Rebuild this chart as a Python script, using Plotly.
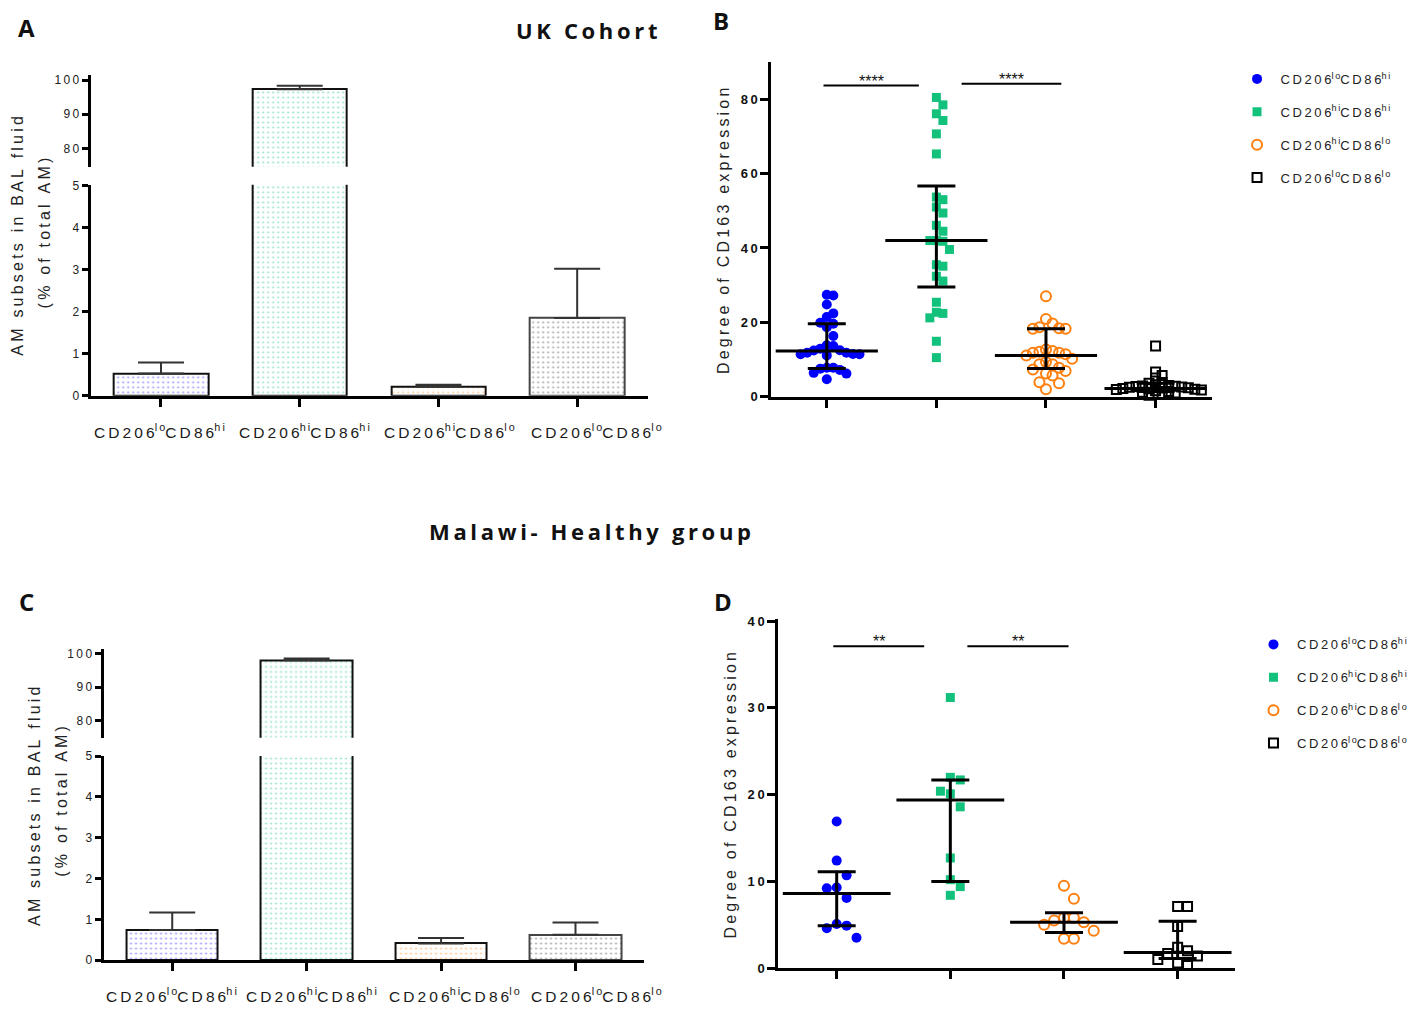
import plotly.graph_objects as go

W, H = 1412, 1009
TS = "\u2009"


def sp(s):
    return TS.join(s)


def lab(a, b):
    return sp("CD206") + "<sup>" + sp(a) + "</sup>" + sp("CD86") + "<sup>" + sp(b) + "</sup>"


# ---------------- DATA ----------------
subset_sup = [("lo", "hi"), ("hi", "hi"), ("hi", "lo"), ("lo", "lo")]
subset_labels = [lab(a, b) for a, b in subset_sup]

# Panel A / C : % of total AM (mean, SEM)
uk_pct_mean = [0.53, 97.3, 0.22, 1.85]
uk_pct_sem = [0.26, 1.0, 0.04, 1.17]
mw_pct_mean = [0.74, 98.0, 0.41, 0.62]
mw_pct_sem = [0.43, 0.5, 0.13, 0.30]

# Panel B : UK cohort, degree of CD163 expression
uk_lohi = [27.2, 27.4, 24.8, 22.4, 21.4, 19.6, 18.7, 19.9, 16.3, 13.8, 13.6, 12.9, 12.4, 11.8,
           11.4, 11.1, 11.5, 11.4, 11.8, 12.5, 7.8, 7.5, 6.4, 6.2, 7.2, 7.8, 4.7]
uk_hihi = [80.5, 78.5, 76.1, 74.3, 70.7, 65.3, 53.0, 53.7, 51.0, 49.4, 46.1, 44.5, 42.0, 41.8,
           42.0, 39.6, 35.5, 35.1, 31.1, 32.4, 25.4, 22.7, 22.4, 21.2, 14.9, 10.5]
uk_hilo = [27.0, 20.9, 19.7, 18.7, 18.3, 18.3, 18.4, 12.7, 11.8, 11.4, 12.3, 11.1, 11.8, 12.1,
           10.2, 8.7, 7.8, 8.7, 9.3, 6.9, 6.2, 7.3, 5.7, 3.9, 3.6, 2.0]
uk_lolo = [13.6, 6.6, 5.7, 5.0, 3.8, 3.6, 3.2, 3.0, 2.9, 2.8, 2.7, 2.6, 2.5, 2.4, 2.3, 2.2,
           2.1, 2.0, 1.9, 1.8, 1.6, 1.4, 1.2, 1.0, 0.7, 0.4]
uk_median = [12.3, 42.0, 11.1, 2.2]
uk_q1 = [7.6, 29.5, 7.6, 1.4]
uk_q3 = [19.6, 56.7, 18.3, 3.6]

# Panel D : Malawi healthy group
mw_lohi = [16.9, 12.4, 10.7, 9.2, 9.3, 8.1, 4.9, 4.6, 5.1, 3.5]
mw_hihi = [31.2, 22.0, 21.7, 20.1, 20.4, 18.6, 12.7, 10.2, 9.4, 8.4]
mw_hilo = [9.5, 8.0, 5.8, 5.8, 5.5, 5.3, 5.0, 4.3, 3.4, 3.4]
mw_lolo = [7.1, 7.1, 4.8, 2.4, 1.7, 2.0, 1.4, 1.0, 0.3, 0.6]
mw_median = [8.6, 19.4, 5.3, 1.8]
mw_q1 = [4.9, 10.0, 4.1, 1.1]
mw_q3 = [11.1, 21.7, 6.4, 5.4]

uk_sig = ["****", "****"]
mw_sig = ["**", "**"]

# ---------------- STYLE ----------------
pat_colors = ["#2b2bff", "#19c48e", "#ff8a1a", "#444444"]
bar_line = ["#111111", "#111111", "#111111", "#444444"]
FONT = "Liberation Sans, Arial, sans-serif"
TFONT = "Open Sans, Liberation Sans, sans-serif"

grp_style = [
    dict(symbol="circle", size=10, color="#0000ff", line=dict(width=0)),
    dict(symbol="square", size=9, color="#12c17c", line=dict(width=0)),
    dict(symbol="circle-open", size=10, color="#ff7f0e", line=dict(width=2, color="#ff7f0e")),
    dict(symbol="square-open", size=9, color="#000000", line=dict(width=2, color="#000000")),
]


def swarm(vals, ppu_y, ppu_x, step, dmin):
    """deterministic column-based scatter arrangement (offsets in category units)"""
    n = len(vals)
    order = sorted(range(n), key=lambda i: -vals[i])
    cols = {}
    offs = [0.0] * n
    for i in order:
        y = vals[i] * ppu_y
        k = 0
        while True:
            cands = [0] if k == 0 else [k, -k]
            done = False
            for c in cands:
                if all(abs(y - py) >= dmin for py in cols.get(c, [])):
                    cols.setdefault(c, []).append(y)
                    offs[i] = c * step / ppu_x
                    done = True
                    break
            if done:
                break
            k += 1
    return offs


# the rendered page places y-pixels at ~7 + 0.986*y ; compensate
def Y(py):
    return (py - 7) / 0.986


XS = 3.5  # small horizontal compensation for axis placement


def xdom(a, b):
    return [(a + XS) / W, (b + XS) / W]


def ydom(top, bottom):
    return [1 - Y(bottom) / H, 1 - Y(top) / H]


fig = go.Figure()


def add_bars(xa, ya, mean, sem):
    fig.add_trace(go.Bar(
        x=[0, 1, 2, 3], y=mean, width=0.68, xaxis=xa, yaxis=ya, showlegend=False,
        marker=dict(color="white", line=dict(color=bar_line, width=2),
                    pattern=dict(shape=".", fgcolor=pat_colors, bgcolor="white",
                                 size=5, solidity=0.13)),
        error_y=dict(type="data", symmetric=False, array=sem, arrayminus=[0] * 4,
                     color="#333333", thickness=2, width=23),
        hoverinfo="skip"))


add_bars("x", "y", uk_pct_mean, uk_pct_sem)
add_bars("x2", "y2", uk_pct_mean, uk_pct_sem)
add_bars("x3", "y3", mw_pct_mean, mw_pct_sem)
add_bars("x4", "y4", mw_pct_mean, mw_pct_sem)


def add_scatter(xa, ya, groups, med, q1, q3, ppu_y, ppu_x, legend, dmins, step, medw, capw):
    for i, vals in enumerate(groups):
        offs = swarm(vals, ppu_y, ppu_x, step, dmins[i])
        st = grp_style[i]
        fig.add_trace(go.Scatter(
            x=[i + o for o in offs], y=vals, mode="markers", xaxis=xa, yaxis=ya,
            name=lab(*subset_sup[i]), legend=legend, legendgroup=legend + str(i),
            marker=dict(symbol=st["symbol"], size=st["size"], color=st["color"], line=st["line"]),
            cliponaxis=False, hoverinfo="skip"))
    for i in range(4):
        fig.add_trace(go.Scatter(
            x=[i], y=[med[i]], mode="markers", xaxis=xa, yaxis=ya, showlegend=False,
            marker=dict(symbol="line-ew", size=medw, color="black", line=dict(width=3, color="black")),
            error_y=dict(type="data", symmetric=False, array=[q3[i] - med[i]],
                         arrayminus=[med[i] - q1[i]], color="black", thickness=3, width=capw),
            cliponaxis=False, hoverinfo="skip"))


# Panel B geometry (pixels)
B_X0, B_X1, B_Y0, B_Y1 = 775, 1220, 62, 397
B_RANGE_X = [-0.506, 3.517]
B_RANGE_Y = [0, 90.05]
# Panel D geometry (pixels)
D_X0, D_X1, D_Y0, D_Y1 = 782, 1243, 620, 969
D_RANGE_X = [-0.514, 3.505]
D_RANGE_Y = [0, 40.2]

add_scatter("x5", "y5", [uk_lohi, uk_hihi, uk_hilo, uk_lolo], uk_median, uk_q1, uk_q3,
            (B_Y1 - B_Y0) / 90.05 * 0.986, (B_X1 - B_X0) / 4.023, "legend",
            [9.5, 9.5, 10.5, 5.5], 6.6, 73, 19)
add_scatter("x6", "y6", [mw_lohi, mw_hihi, mw_hilo, mw_lolo], mw_median, mw_q1, mw_q3,
            (D_Y1 - D_Y0) / 40.2 * 0.986, (D_X1 - D_X0) / 4.019, "legend2",
            [15, 15, 14, 13], 10.0, 77, 19)

# ---------------- AXES ----------------
ax_common = dict(showline=True, linecolor="black", linewidth=3, ticks="outside",
                 tickcolor="black", tickwidth=2.5, showgrid=False, zeroline=False)
ytick_font = dict(family=FONT, size=12, color="#222222")

lay = dict(
    width=W, height=H, margin=dict(l=0, r=0, t=0, b=0),
    plot_bgcolor="white", paper_bgcolor="white", bargap=0,
    # Panel A
    xaxis=dict(domain=xdom(88, 651), range=[-0.507, 3.514], anchor="y", tickvals=[0, 1, 2, 3],
               showticklabels=False, ticklen=8, **ax_common),
    yaxis=dict(domain=ydom(185, 396), range=[0, 5.02], anchor="x", tickvals=[0, 1, 2, 3, 4, 5],
               ticklen=6, tickfont=ytick_font, **ax_common),
    xaxis2=dict(domain=xdom(88, 651), range=[-0.507, 3.514], anchor="y2", visible=False),
    yaxis2=dict(domain=ydom(75, 167), range=[74.6, 101.5], anchor="x2", tickvals=[80, 90, 100],
                ticktext=[sp("80"), sp("90"), sp("100")], ticklen=6, tickfont=ytick_font, **ax_common),
    # Panel C
    xaxis3=dict(domain=xdom(101, 646), range=[-0.511, 3.506], anchor="y3", tickvals=[0, 1, 2, 3],
                showticklabels=False, ticklen=8, **ax_common),
    yaxis3=dict(domain=ydom(756.7, 961), range=[0, 5.0], anchor="x3", tickvals=[0, 1, 2, 3, 4, 5],
                ticklen=6, tickfont=ytick_font, **ax_common),
    xaxis4=dict(domain=xdom(101, 646), range=[-0.511, 3.506], anchor="y4", visible=False),
    yaxis4=dict(domain=ydom(650, 738.3), range=[75.05, 101.2], anchor="x4", tickvals=[80, 90, 100],
                ticktext=[sp("80"), sp("90"), sp("100")], ticklen=6, tickfont=ytick_font, **ax_common),
    # Panel B
    xaxis5=dict(domain=xdom(B_X0, B_X1), range=B_RANGE_X, anchor="y5", tickvals=[0, 1, 2, 3],
                showticklabels=False, ticklen=8, **ax_common),
    yaxis5=dict(domain=ydom(B_Y0, B_Y1), range=B_RANGE_Y, anchor="x5", tickvals=[0, 20, 40, 60, 80],
                ticktext=["0", sp("20"), sp("40"), sp("60"), sp("80")], ticklen=8,
                tickfont=dict(family=FONT, size=13, color="#111", weight="bold"), **ax_common),
    # Panel D
    xaxis6=dict(domain=xdom(D_X0, D_X1), range=D_RANGE_X, anchor="y6", tickvals=[0, 1, 2, 3],
                showticklabels=False, ticklen=8, **ax_common),
    yaxis6=dict(domain=ydom(D_Y0, D_Y1), range=D_RANGE_Y, anchor="x6", tickvals=[0, 10, 20, 30, 40],
                ticktext=["0", sp("10"), sp("20"), sp("30"), sp("40")], ticklen=8,
                tickfont=dict(family=FONT, size=13, color="#111", weight="bold"), **ax_common),
    legend=dict(x=1245 / W, y=1 - Y(64) / H, xanchor="left", yanchor="top", tracegroupgap=13,
                font=dict(family=FONT, size=13, color="#222"), bgcolor="rgba(0,0,0,0)",
                traceorder="grouped", itemwidth=37),
    legend2=dict(x=1262 / W, y=1 - Y(630) / H, xanchor="left", yanchor="top", tracegroupgap=13,
                 font=dict(family=FONT, size=13, color="#222"), bgcolor="rgba(0,0,0,0)",
                 traceorder="grouped", itemwidth=37),
    showlegend=True,
)
fig.update_layout(**lay)

# ---------------- ANNOTATIONS ----------------
ann = []


def text(x, y, t, size, family=FONT, bold=False, angle=0, color="#111"):
    ann.append(dict(x=x / W, y=1 - Y(y) / H, xref="paper", yref="paper", text=t, showarrow=False,
                    textangle=angle, xanchor="center", yanchor="middle",
                    font=dict(family=family, size=size, color=color,
                              weight="bold" if bold else "normal")))


text(27, 28, "A", 24, TFONT, True)
text(728, 21, "B", 24, TFONT, True)
text(27, 602, "C", 24, TFONT, True)
text(730, 602, "D", 24, TFONT, True)
text(592, 30, sp("UK Cohort"), 22, TFONT, True)
text(595, 531, sp("Malawi- Healthy group"), 22, TFONT, True)

# category labels under the bar charts
A_label_x = [161, 307, 454, 602]
C_label_x = [173, 314.5, 458.5, 602]
for i, t in enumerate(subset_labels):
    text(A_label_x[i], 431, t, 15.5, color="#1a1a1a")
    text(C_label_x[i], 996, t, 15.5, color="#1a1a1a")

ytitle1 = sp("AM subsets in BAL fluid")
ytitle2 = sp("(% of total AM)")
text(18, 236, ytitle1, 16, angle=-90, color="#222")
text(45, 233, ytitle2, 16, angle=-90, color="#222")
text(35, 807, ytitle1, 16, angle=-90, color="#222")
text(62, 802, ytitle2, 16, angle=-90, color="#222")
ytitle3 = sp("Degree of CD163 expression")
text(731, 231, ytitle3, 16, angle=-90, color="#222")
text(737, 796, ytitle3, 16, angle=-90, color="#222")

shapes = []


def sig(xa, ya, x0, x1, y, t):
    shapes.append(dict(type="line", xref=xa, yref=ya, x0=x0, x1=x1, y0=y, y1=y,
                       line=dict(color="black", width=2)))
    ann.append(dict(x=(x0 + x1) / 2, y=y, xref=xa, yref=ya, text=t, showarrow=False,
                    yanchor="bottom", yshift=-6, font=dict(family=FONT, size=16, color="#111")))


sig("x5", "y5", -0.03, 0.84, 83.7, uk_sig[0])
sig("x5", "y5", 1.23, 2.14, 84.2, uk_sig[1])
sig("x6", "y6", -0.03, 0.77, 37.1, mw_sig[0])
sig("x6", "y6", 1.15, 2.04, 37.1, mw_sig[1])

fig.update_layout(annotations=ann, shapes=shapes)
fig.write_html("out.html")
